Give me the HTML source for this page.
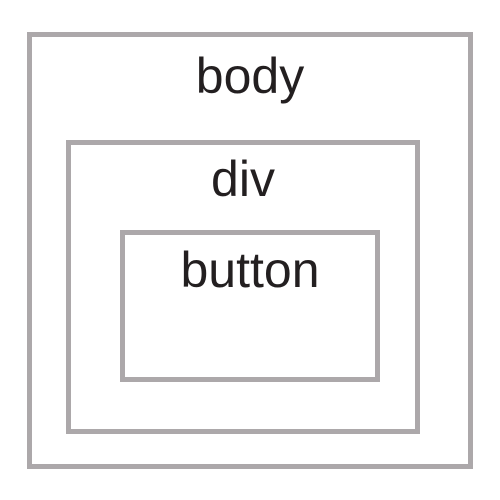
<!DOCTYPE html>
<html><head><style>
body{margin:0;width:500px;height:500px;background:#fff;position:relative;overflow:hidden;font-family:"Liberation Sans","DejaVu Sans",sans-serif;}
.box{position:absolute;border:5px solid #aca8aa;box-sizing:border-box;}
.t{position:absolute;left:0;right:0;text-align:center;color:#231f20;font-size:50px;line-height:1;}
</style></head><body>
<div class="box" style="left:27px;top:32px;width:446px;height:437px;">
<div class="t" style="top:14px;">body</div>
</div>
<div class="box" style="left:66px;top:140px;width:354px;height:294px;">
<div class="t" style="top:9px;">div</div>
</div>
<div class="box" style="left:120px;top:230px;width:260px;height:152px;">
<div class="t" style="top:10px;">button</div>
</div>
</body></html>
